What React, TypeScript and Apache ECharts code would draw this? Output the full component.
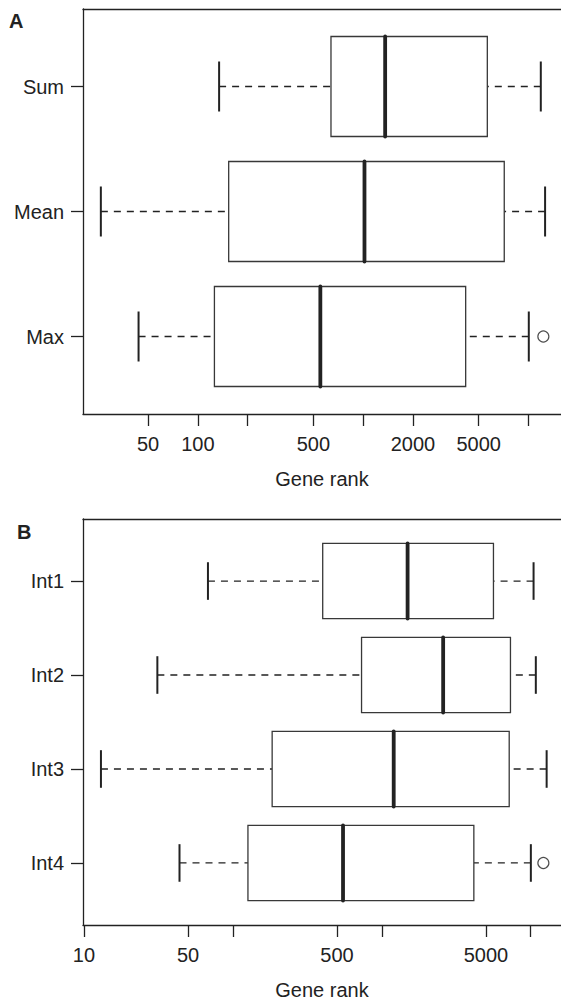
import React, { useEffect, useRef } from 'react';
import * as echarts from 'echarts';

const FONT = '"Liberation Sans", Arial, Helvetica, sans-serif';
const INK = '#222222';
const BOX_EDGE = '#383838';

// ---------- Panel A (positions 1..3 from bottom to top) ----------
const aCategories = ['Max', 'Mean', 'Sum'];
const aWhiskerLow = [43.8, 25.9, 134.5];
const aQ1 = [126, 153.7, 639];
const aMedian = [551, 1019, 1359];
const aQ3 = [4172, 7140, 5640];
const aWhiskerHigh = [10050, 12610, 11880];
const aOutlierValues = [12310];
const aOutlierCategories = ['Max'];
const aTickValues = [50, 100, 200, 500, 1000, 2000, 5000, 10000];
const aTickLabels = [50, 100, 500, 2000, 5000];

// ---------- Panel B (positions 1..4 from bottom to top) ----------
const bCategories = ['Int4', 'Int3', 'Int2', 'Int1'];
const bWhiskerLow = [43.8, 13.0, 31.1, 68.0];
const bQ1 = [126.2, 183.5, 731, 401];
const bMedian = [549, 1202, 2582, 1490];
const bQ3 = [4150, 7170, 7310, 5620];
const bWhiskerHigh = [10020, 12790, 10820, 10450];
const bOutlierValues = [12160];
const bOutlierCategories = ['Int4'];
const bTickValues = [10, 50, 100, 500, 1000, 5000, 10000];
const bTickLabels = [10, 50, 500, 5000];

const BOX_HALF = 0.4;
const STAPLE_HALF = 0.2;

function rows(cats: string[], lo: number[], q1: number[], med: number[], q3: number[], hi: number[]) {
  return cats.map((_, i) => [i + 1, lo[i], q1[i], med[i], q3[i], hi[i]]);
}

function outliers(cats: string[], vals: number[], outCats: string[]) {
  return vals.map((v, i) => [v, cats.indexOf(outCats[i]) + 1]);
}

const renderBox = (params: any, api: any) => {
  const pos = api.value(0);
  const lo = api.value(1);
  const q1 = api.value(2);
  const med = api.value(3);
  const q3 = api.value(4);
  const hi = api.value(5);
  const c = (x: number, y: number) => api.coord([x, y]);
  const yc = c(q1, pos)[1];
  const yBoxTop = c(q1, pos + BOX_HALF)[1];
  const yBoxBot = c(q1, pos - BOX_HALF)[1];
  const yStTop = c(q1, pos + STAPLE_HALF)[1];
  const yStBot = c(q1, pos - STAPLE_HALF)[1];
  const xLo = c(lo, pos)[0];
  const xQ1 = c(q1, pos)[0];
  const xMed = c(med, pos)[0];
  const xQ3 = c(q3, pos)[0];
  const xHi = c(hi, pos)[0];
  const dash = { stroke: INK, lineWidth: 1.3, lineDash: [7, 6] };
  return {
    type: 'group',
    children: [
      { type: 'line', shape: { x1: xLo, y1: yc, x2: xQ1, y2: yc }, style: dash },
      { type: 'line', shape: { x1: xHi, y1: yc, x2: xQ3, y2: yc }, style: dash },
      {
        type: 'rect',
        shape: { x: xQ1, y: yBoxTop, width: xQ3 - xQ1, height: yBoxBot - yBoxTop },
        style: { fill: '#ffffff', stroke: BOX_EDGE, lineWidth: 1.3 },
      },
      {
        type: 'line',
        shape: { x1: xMed, y1: yBoxTop, x2: xMed, y2: yBoxBot },
        style: { stroke: INK, lineWidth: 3.8, lineCap: 'round' },
      },
      { type: 'line', shape: { x1: xLo, y1: yStTop, x2: xLo, y2: yStBot }, style: { stroke: INK, lineWidth: 2 } },
      { type: 'line', shape: { x1: xHi, y1: yStTop, x2: xHi, y2: yStBot }, style: { stroke: INK, lineWidth: 2 } },
    ],
  };
};

const textStyle = { fontSize: 20, fontFamily: FONT, color: INK };

function xAxisFor(gridIndex: number, min: number, max: number, ticks: number[], labels: number[], margin: number, nameGap: number) {
  return {
    gridIndex,
    type: 'log',
    logBase: 10,
    position: 'bottom',
    min,
    max,
    axisLine: { show: true, onZero: false, lineStyle: { color: INK, width: 1.3 } },
    axisTick: { show: true, length: 12, customValues: ticks, lineStyle: { color: INK, width: 1.3 } },
    axisLabel: {
      show: true,
      customValues: labels,
      margin,
      ...textStyle,
      formatter: (v: number) => String(Math.round(v)),
    },
    splitLine: { show: false },
    minorTick: { show: false },
    name: 'Gene rank',
    nameLocation: 'middle',
    nameGap,
    nameTextStyle: { ...textStyle },
  };
}

function topFrameAxis(gridIndex: number, min: number, max: number) {
  return {
    gridIndex,
    type: 'log',
    logBase: 10,
    position: 'top',
    min,
    max,
    axisLine: { show: true, onZero: false, lineStyle: { color: INK, width: 1.3 } },
    axisTick: { show: false },
    axisLabel: { show: false },
    splitLine: { show: false },
  };
}

function yAxisFor(gridIndex: number, min: number, max: number, cats: string[]) {
  const positions = cats.map((_, i) => i + 1);
  return {
    gridIndex,
    type: 'value',
    min,
    max,
    axisLine: { show: true, onZero: false, lineStyle: { color: INK, width: 1.3 } },
    axisTick: { show: true, length: 12, customValues: positions, lineStyle: { color: INK, width: 1.3 } },
    axisLabel: {
      show: true,
      customValues: positions,
      margin: 19,
      ...textStyle,
      formatter: (v: number) => cats[Math.round(v) - 1] ?? '',
    },
    splitLine: { show: false },
  };
}

const A_MIN = 20.2;
const A_MAX = 15740;
const B_MIN = 9.85;
const B_MAX = 15970;

export default function App() {
  const ref = useRef<HTMLDivElement>(null);
  useEffect(() => {
    if (!ref.current) return;
    const chart = echarts.init(ref.current, null, { renderer: 'svg' });
    const option: any = {
      animation: false,
      backgroundColor: '#ffffff',
      grid: [
        { left: 83, top: 9, width: 480, height: 405, show: false },
        { left: 83, top: 519, width: 480, height: 406, show: false },
      ],
      xAxis: [
        xAxisFor(0, A_MIN, A_MAX, aTickValues, aTickLabels, 20, 55),
        xAxisFor(1, B_MIN, B_MAX, bTickValues, bTickLabels, 20, 55),
        topFrameAxis(0, A_MIN, A_MAX),
        topFrameAxis(1, B_MIN, B_MAX),
      ],
      yAxis: [yAxisFor(0, 0.38, 3.62, aCategories), yAxisFor(1, 0.34, 4.66, bCategories)],
      graphic: [
        { type: 'text', left: 9, top: 11, style: { text: 'A', font: `bold 20px ${FONT}`, fill: INK } },
        { type: 'text', left: 17, top: 522, style: { text: 'B', font: `bold 20px ${FONT}`, fill: INK } },
      ],
      series: [
        {
          type: 'custom',
          xAxisIndex: 0,
          yAxisIndex: 0,
          renderItem: renderBox,
          encode: { x: [1, 2, 3, 4, 5], y: 0 },
          data: rows(aCategories, aWhiskerLow, aQ1, aMedian, aQ3, aWhiskerHigh),
        },
        {
          type: 'scatter',
          xAxisIndex: 0,
          yAxisIndex: 0,
          symbol: 'circle',
          symbolSize: 11,
          itemStyle: { color: '#ffffff', borderColor: INK, borderWidth: 1.2 },
          data: outliers(aCategories, aOutlierValues, aOutlierCategories),
        },
        {
          type: 'custom',
          xAxisIndex: 1,
          yAxisIndex: 1,
          renderItem: renderBox,
          encode: { x: [1, 2, 3, 4, 5], y: 0 },
          data: rows(bCategories, bWhiskerLow, bQ1, bMedian, bQ3, bWhiskerHigh),
        },
        {
          type: 'scatter',
          xAxisIndex: 1,
          yAxisIndex: 1,
          symbol: 'circle',
          symbolSize: 11,
          itemStyle: { color: '#ffffff', borderColor: INK, borderWidth: 1.2 },
          data: outliers(bCategories, bOutlierValues, bOutlierCategories),
        },
      ],
    };
    chart.setOption(option);
    return () => chart.dispose();
  }, []);
  return <div ref={ref} style={{ position: 'absolute', left: 0, top: 0, width: 561, height: 1001 }} />;
}
